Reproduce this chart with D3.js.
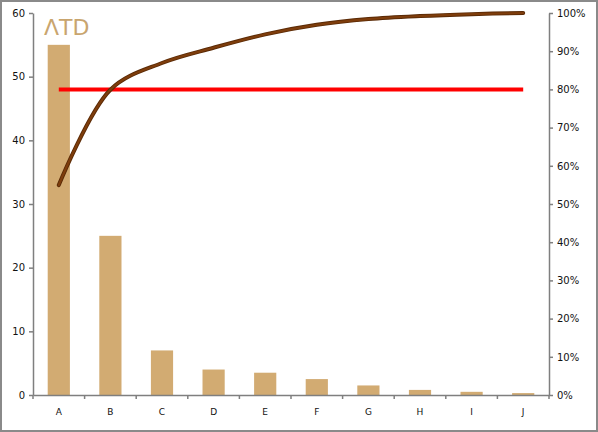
<!DOCTYPE html>
<html><head><meta charset="utf-8">
<script src="https://cdn.jsdelivr.net/npm/d3@7"></script>
<style>
html,body{margin:0;padding:0;background:#fff;}
svg{display:block;}
text{font-family:"DejaVu Sans",Verdana,sans-serif;}
</style></head>
<body><svg id="c" width="598" height="432"></svg>
<script>
const categories = ["A","B","C","D","E","F","G","H","I","J"];
const values = [55, 25, 7, 4, 3.5, 2.5, 1.5, 0.8, 0.5, 0.3];
const leftTicks = [0,10,20,30,40,50,60];
const rightTicks = [0,0.1,0.2,0.3,0.4,0.5,0.6,0.7,0.8,0.9,1];
const threshold = 0.8;

const total = d3.sum(values);
let run = 0;
const cumulative = values.map(v => (run += v) / total);

const svg = d3.select("#c");
const W = 598, H = 432;
const m = {left:33, right:49, top:13, bottom:37};

svg.append("rect").attr("x",1).attr("y",1).attr("width",W-2).attr("height",H-2)
  .attr("fill","#fff").attr("stroke","#8a8a8a").attr("stroke-width",2);

const x = d3.scaleBand().domain(categories).range([m.left, W-m.right]).paddingInner(0.57).paddingOuter(0.285);
const xb = d3.scaleBand().domain(categories).range([m.left, W-m.right]);
const y = d3.scaleLinear().domain([0,60]).range([H-m.bottom, m.top]);
const y2 = d3.scaleLinear().domain([0,1]).range([H-m.bottom, m.top]);

// bars
svg.append("g").selectAll("rect").data(values).join("rect")
  .attr("x",(d,i)=>x(categories[i]))
  .attr("width",x.bandwidth())
  .attr("y",d=>y(d))
  .attr("height",d=>y(0)-y(d))
  .attr("fill","#d2ab72");

// axes
const axStyle = g => {
  g.selectAll("path,line").attr("stroke","#7f7f7f").attr("stroke-width",1.5);
  g.selectAll("text").attr("fill","#111").attr("font-size",10);
};
svg.append("g").attr("transform",`translate(${m.left},0)`)
  .call(d3.axisLeft(y).tickValues(leftTicks).tickSize(4).tickSizeOuter(0).tickPadding(4))
  .call(axStyle);
svg.append("g").attr("transform",`translate(${W-m.right},0)`)
  .call(d3.axisRight(y2).tickValues(rightTicks).tickFormat(d3.format(".0%")).tickSize(4).tickSizeOuter(0).tickPadding(4))
  .call(axStyle);
const xAxis = svg.append("g").attr("transform",`translate(0,${H-m.bottom})`)
  .call(d3.axisBottom(xb).tickSize(0).tickPadding(14).tickSizeOuter(0))
  .call(axStyle);
xAxis.selectAll("text").attr("font-size",9);
// boundary ticks
const bounds = categories.map(c=>xb(c)).concat([W-m.right]);
xAxis.selectAll("line.bt").data(bounds).join("line").attr("class","bt")
  .attr("x1",d=>d).attr("x2",d=>d).attr("y1",0).attr("y2",4)
  .attr("stroke","#7f7f7f").attr("stroke-width",1.5);

// threshold line
svg.append("line")
  .attr("x1",xb(categories[0])+xb.bandwidth()/2)
  .attr("x2",xb(categories[categories.length-1])+xb.bandwidth()/2)
  .attr("y1",y2(threshold)).attr("y2",y2(threshold))
  .attr("stroke","#ff0000").attr("stroke-width",4);

// cumulative line
const line = d3.line()
  .x((d,i)=>xb(categories[i])+xb.bandwidth()/2)
  .y(d=>y2(d))
  .curve(d3.curveCatmullRom.alpha(0.5));
svg.append("path").datum(cumulative).attr("d",line)
  .attr("fill","none").attr("stroke","#5a2a06").attr("stroke-width",4).attr("stroke-linecap","round");
svg.append("path").datum(cumulative).attr("d",line)
  .attr("fill","none").attr("stroke","#7e3d0c").attr("stroke-width",2.2).attr("stroke-linecap","round");

// logo
svg.append("text").attr("x",44).attr("y",35).text("ΛTD")
  .attr("font-family","Lato, sans-serif").attr("font-size",22).attr("font-weight",400)
  .attr("fill","#c9a56e");
</script></body></html>
